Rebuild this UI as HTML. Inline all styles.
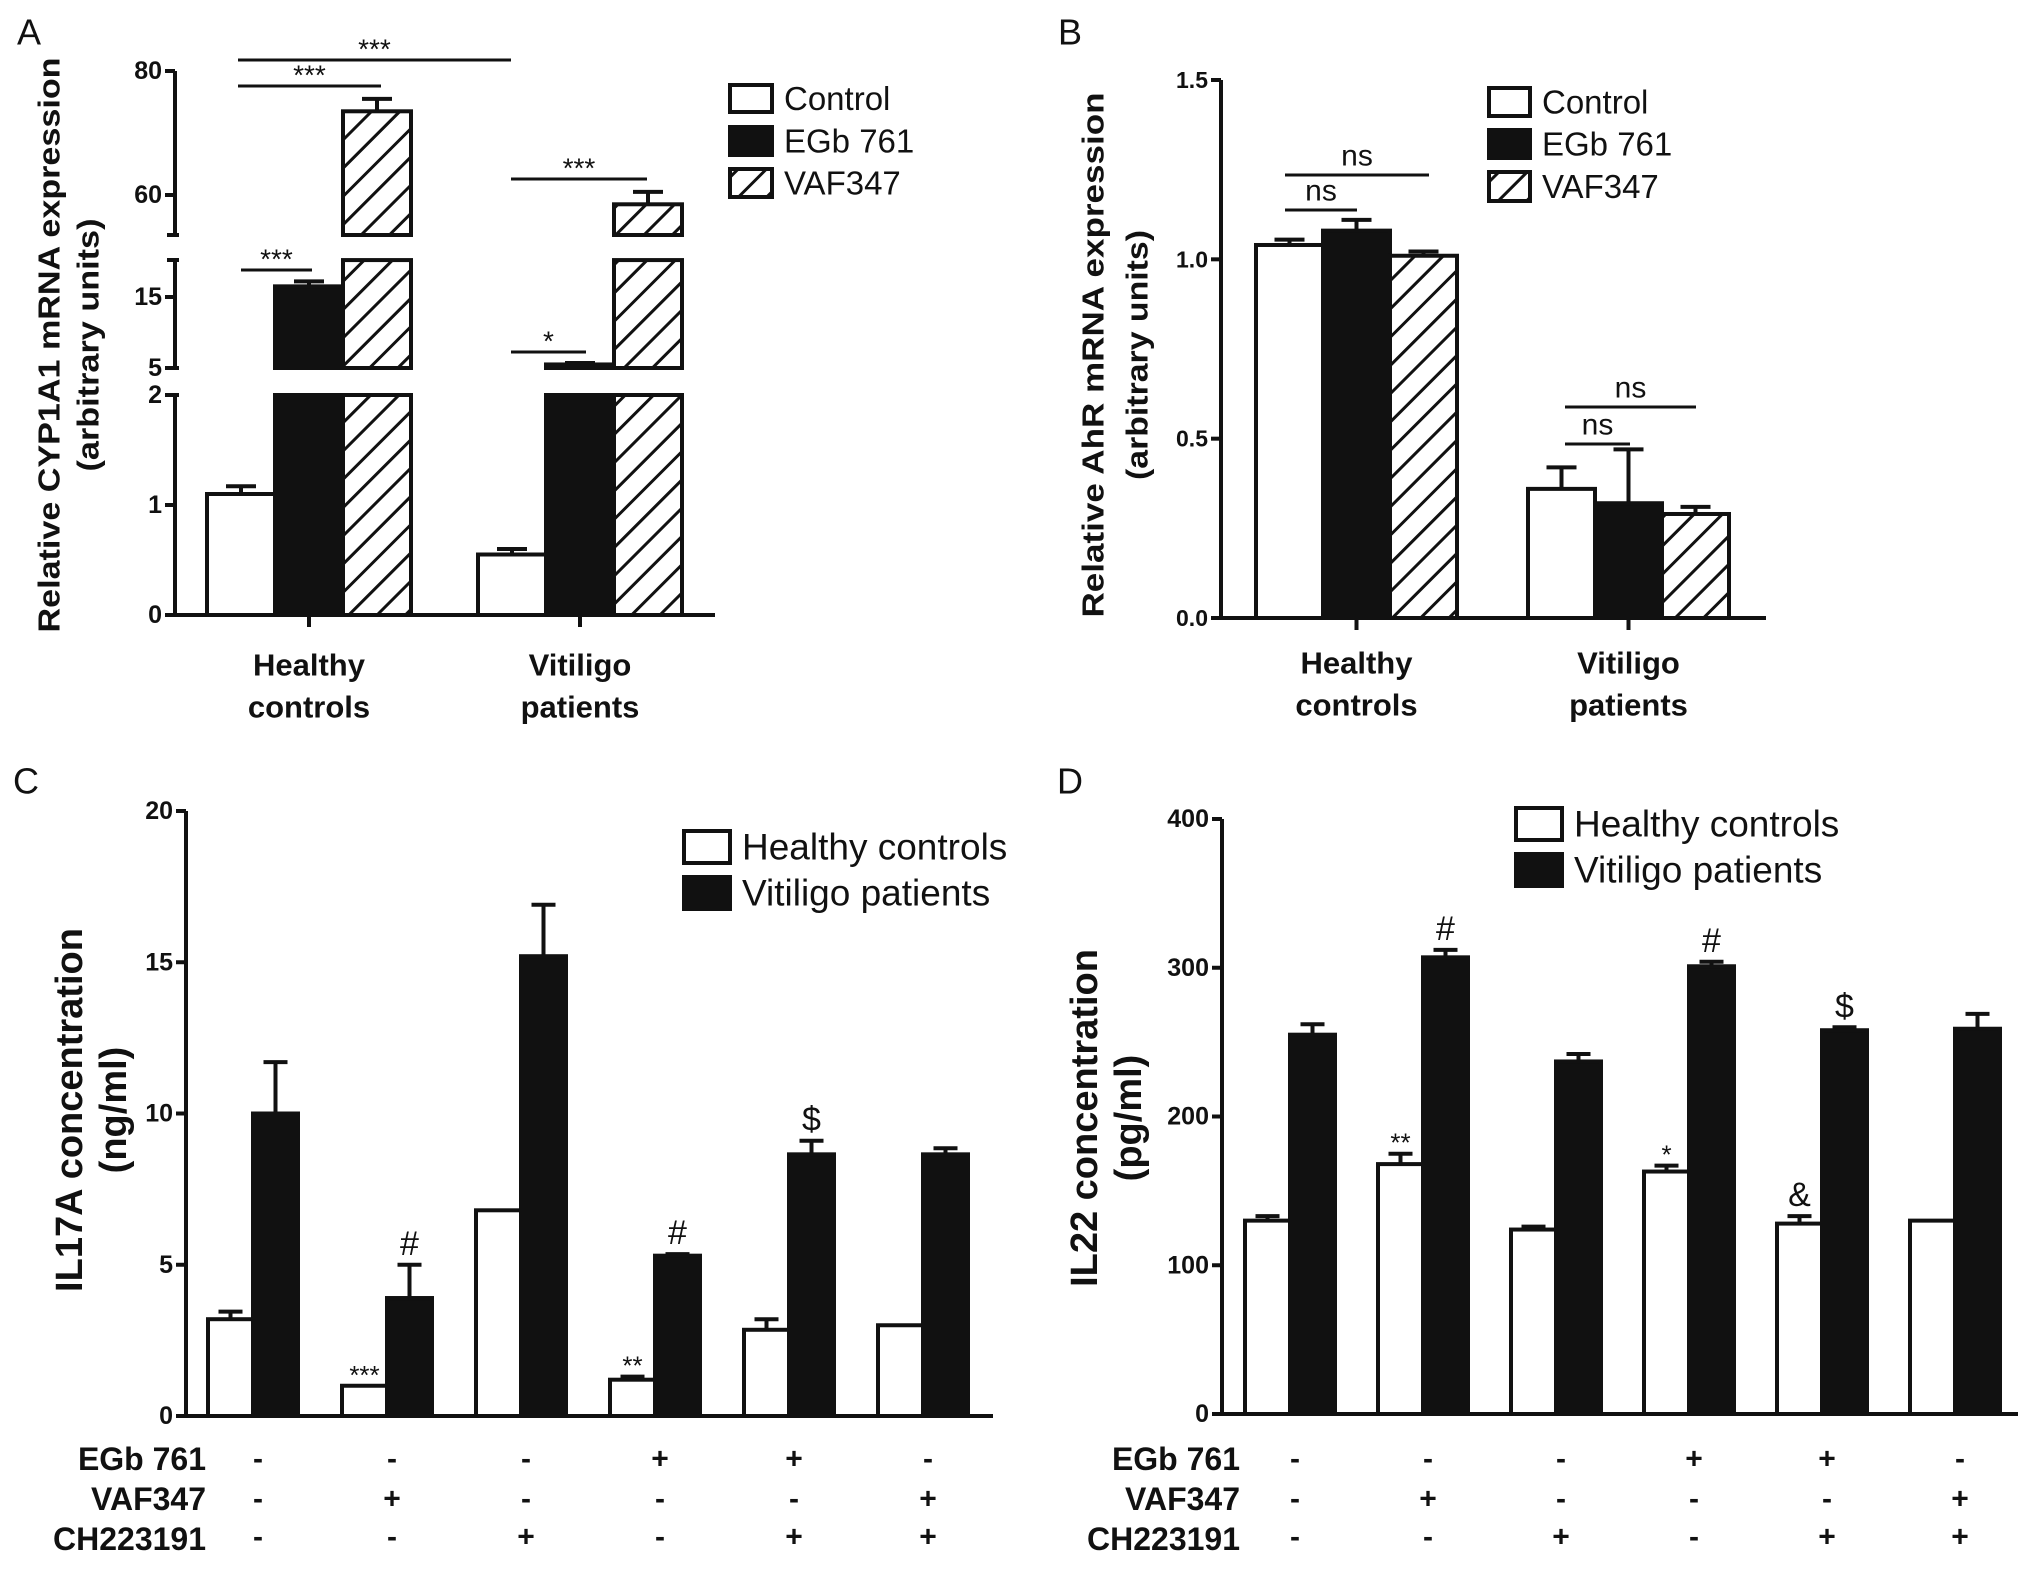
<!DOCTYPE html>
<html><head><meta charset="utf-8">
<style>
html,body{margin:0;padding:0;background:#fff;}
svg{display:block;font-family:"Liberation Sans",Arial,sans-serif;}
</style></head>
<body>
<svg id="fig" width="2031" height="1569" viewBox="0 0 2031 1569" xmlns="http://www.w3.org/2000/svg">
<defs>
<pattern id="hatch" patternUnits="userSpaceOnUse" width="20" height="20" patternTransform="rotate(45)">
<rect width="20" height="20" fill="#fff"/>
<line x1="0" y1="0" x2="0" y2="20" stroke="#111" stroke-width="6"/>
</pattern>
</defs>
</svg>
<script>
// ---- Panel A data ----
const groupsA = ["Healthy controls", "Vitiligo patients"];
const seriesA = ["Control", "EGb 761", "VAF347"];
const valsA_control = [1.1, 0.55];
const errA_control = [0.07, 0.05];
const valsA_egb = [16.5, 5.5];
const errA_egb = [0.7, 0.2];
const valsA_vaf = [73.5, 58.5];
const errA_vaf = [2.0, 2.0];
// ---- Panel B data ----
const groupsB = ["Healthy controls", "Vitiligo patients"];
const valsB_control = [1.04, 0.36];
const errB_control = [0.015, 0.06];
const valsB_egb = [1.08, 0.32];
const errB_egb = [0.03, 0.15];
const valsB_vaf = [1.01, 0.29];
const errB_vaf = [0.012, 0.02];
const ticksB = [0, 0.5, 1.0, 1.5];
const tickLabelsB = ["0.0", "0.5", "1.0", "1.5"];
// ---- Panel C data ----
const valsC_hc = [3.2, 1.0, 6.8, 1.2, 2.85, 3.0];
const errC_hc = [0.25, 0, 0, 0.1, 0.35, 0];
const valsC_vp = [10.0, 3.9, 15.2, 5.3, 8.65, 8.65];
const errC_vp = [1.7, 1.1, 1.7, 0.05, 0.45, 0.2];
const annotC_hc = ["", "***", "", "**", "", ""];
const annotC_vp = ["", "#", "", "#", "$", ""];
const ticksC = [0, 5, 10, 15, 20];
// ---- Panel D data ----
const valsD_hc = [130, 168, 124, 163, 128, 130];
const errD_hc = [3, 7, 2, 4, 5, 0];
const valsD_vp = [255, 307, 237, 301, 258, 259];
const errD_vp = [7, 5, 5, 3, 2, 10];
const annotD_hc = ["", "**", "", "*", "&", ""];
const annotD_vp = ["", "#", "", "#", "$", ""];
const ticksD = [0, 100, 200, 300, 400];
// ---- treatments ----
const rowEGb = ["-", "-", "-", "+", "+", "-"];
const rowVAF = ["-", "+", "-", "-", "-", "+"];
const rowCH = ["-", "-", "+", "-", "+", "+"];

const svg = document.getElementById('fig');
const NS = "http://www.w3.org/2000/svg";
function mk(tag, attrs, parent) {
  const e = document.createElementNS(NS, tag);
  for (const k in attrs) e.setAttribute(k, attrs[k]);
  (parent || svg).appendChild(e);
  return e;
}
function line(x1, y1, x2, y2, w, name, p) {
  const e = mk('line', {x1, y1, x2, y2, stroke: '#111', 'stroke-width': w}, p);
  
  
  return e;
}
function text(x, y, s, size, opts, name, p) {
  const a = {x, y, 'font-size': size, fill: '#111', 'text-anchor': 'middle', 'dominant-baseline': 'central'};
  Object.assign(a, opts || {});
  const e = mk('text', a, p);
  e.textContent = s;
  
  
  return e;
}
function rect(x, y, w, h, fill, name, p) {
  const e = mk('rect', {x, y, width: w, height: Math.max(0, h), fill, stroke: '#111', 'stroke-width': 4}, p);
  
  
  return e;
}
function errbar(cx, yTop, yVal, cap, name, p) {
  const g = mk('g', {}, p);
  
  
  line(cx, yVal, cx, yTop, 4, 'error-stem', g);
  line(cx - cap / 2, yTop, cx + cap / 2, yTop, 4, 'error-cap', g);
}
function group(name) {
  const g = mk('g', {});
  
  
  return g;
}
function legendEntry(x, y, w, h, fill, label, fs, g) {
  const e = mk('g', {}, g);
  
  
  rect(x, y, w, h, fill, 'legend-swatch', e);
  text(x + w + 12, y + h / 2, label, fs, {'text-anchor': 'start'}, 'legend-label', e);
}
const fills = ['#fff', '#111', 'url(#hatch)'];

// ================= Panel A =================
(function () {
  const g = group('panel-a');
  text(29, 32, 'A', 36, {}, 'panel-label-a', g);
  const X0 = 175, XR = 715, Y0 = 615;
  function yA(v) {
    if (v <= 2) return 615 - v * 110;
    if (v <= 20.3) return 368 - (v - 5) * 7.1;
    return 195 - (v - 60) * 6.2;
  }
  line(X0, 71, X0, 235, 4, 'y-axis-upper', g);
  line(X0, 260, X0, 368, 4, 'y-axis-middle', g);
  line(X0, 395, X0, 615, 4, 'y-axis-lower', g);
  [235, 260, 368, 395].forEach(y => line(X0 - 8, y, X0 + 4, y, 4, 'axis-break-mark', g));
  line(X0, Y0, XR, Y0, 4, 'x-axis', g);
  const ticks = [0, 1, 2, 5, 15, 60, 80];
  ticks.forEach(t => {
    const y = yA(t);
    line(X0 - 10, y, X0, y, 4, 'y-tick', g);
    text(X0 - 13, y, String(t), 25, {'text-anchor': 'end', 'font-weight': 'bold'}, 'y-tick-label', g);
  });
  const yt = mk('text', {transform: 'translate(49,345) rotate(-90)', 'font-size': 31, 'font-weight': 'bold', 'text-anchor': 'middle', 'dominant-baseline': 'central', textLength: 575, lengthAdjust: 'spacingAndGlyphs', fill: '#111'}, g);
  yt.textContent = 'Relative CYP1A1 mRNA expression';
  
  
  const yt2 = mk('text', {transform: 'translate(88,345) rotate(-90)', 'font-size': 31, 'font-weight': 'bold', 'text-anchor': 'middle', 'dominant-baseline': 'central', textLength: 253, lengthAdjust: 'spacingAndGlyphs', fill: '#111'}, g);
  yt2.textContent = '(arbitrary units)';
  
  
  const vals = [valsA_control, valsA_egb, valsA_vaf];
  const errs = [errA_control, errA_egb, errA_vaf];
  const groupX = [207, 478], bw = 68;
  groupsA.forEach((gname, gi) => {
    const cx = groupX[gi] + bw * 1.5;
    line(cx, Y0, cx, Y0 + 12, 4, 'x-tick', g);
    const parts = gname.split(' ');
    text(cx, 665, parts[0], 31, {'font-weight': 'bold'}, 'x-category-label', g);
    text(cx, 707, parts[1], 31, {'font-weight': 'bold'}, 'x-category-label', g);
    for (let s = 0; s < 3; s++) {
      const v = vals[s][gi], e = errs[s][gi];
      const x = groupX[gi] + s * bw;
      errbar(x + bw / 2, yA(v + e), yA(v), 30, 'error-bar', g);
      rect(x, yA(Math.min(v, 2)), bw, Y0 - yA(Math.min(v, 2)), fills[s], 'bar-' + s + '-lower', g);
      if (v > 5) rect(x, yA(Math.min(v, 20.2)), bw, 368 - yA(Math.min(v, 20.2)), fills[s], 'bar-' + s + '-middle', g);
      if (v > 53.5) rect(x, yA(v), bw, 235 - yA(v), fills[s], 'bar-' + s + '-upper', g);
    }
  });
  [[238, 511, 60, '***'], [238, 381, 86, '***'], [241, 312, 270, '***'], [511, 647, 179, '***'], [511, 586, 352, '*']].forEach(s => {
    line(s[0], s[2], s[1], s[2], 3, 'significance-line', g);
    text((s[0] + s[1]) / 2, s[2] - 11, s[3], 28, {}, 'significance-label', g);
  });
  legendEntry(730, 85, 42, 27, '#fff', 'Control', 33, g);
  legendEntry(730, 127, 42, 28, '#111', ' EGb 761', 33, g);
  legendEntry(730, 169, 42, 28, 'url(#hatch)', 'VAF347', 33, g);
})();

// ================= Panel B =================
(function () {
  const g = group('panel-b');
  text(1070, 32, 'B', 36, {}, 'panel-label-b', g);
  const X0 = 1221, XR = 1766, Y0 = 618, Ytop = 80;
  const yB = v => Y0 - v * (Y0 - Ytop) / 1.5;
  line(X0, Ytop, X0, Y0, 4, 'y-axis', g);
  line(X0, Y0, XR, Y0, 4, 'x-axis', g);
  ticksB.forEach((t, i) => {
    line(X0 - 10, yB(t), X0, yB(t), 4, 'y-tick', g);
    text(X0 - 13, yB(t), tickLabelsB[i], 23, {'text-anchor': 'end', 'font-weight': 'bold'}, 'y-tick-label', g);
  });
  const yt = mk('text', {transform: 'translate(1093,355) rotate(-90)', 'font-size': 31, 'font-weight': 'bold', 'text-anchor': 'middle', 'dominant-baseline': 'central', textLength: 525, lengthAdjust: 'spacingAndGlyphs', fill: '#111'}, g);
  yt.textContent = 'Relative AhR  mRNA expression';
  
  
  const yt2 = mk('text', {transform: 'translate(1137,355) rotate(-90)', 'font-size': 31, 'font-weight': 'bold', 'text-anchor': 'middle', 'dominant-baseline': 'central', textLength: 250, lengthAdjust: 'spacingAndGlyphs', fill: '#111'}, g);
  yt2.textContent = '(arbitrary units)';
  
  
  const vals = [valsB_control, valsB_egb, valsB_vaf];
  const errs = [errB_control, errB_egb, errB_vaf];
  const groupX = [1256, 1528], bw = 67;
  groupsB.forEach((gname, gi) => {
    const cx = groupX[gi] + bw * 1.5;
    line(cx, Y0, cx, Y0 + 12, 4, 'x-tick', g);
    const parts = gname.split(' ');
    text(cx, 663, parts[0], 31, {'font-weight': 'bold'}, 'x-category-label', g);
    text(cx, 705, parts[1], 31, {'font-weight': 'bold'}, 'x-category-label', g);
    for (let s = 0; s < 3; s++) {
      const v = vals[s][gi], e = errs[s][gi];
      const x = groupX[gi] + s * bw;
      errbar(x + bw / 2, yB(v + e), yB(v), 30, 'error-bar', g);
      rect(x, yB(v), bw, Y0 - yB(v), fills[s], 'bar-' + seriesA[s].toLowerCase().replace(' ', '-'), g);
    }
  });
  [[1285, 1429, 175], [1285, 1357, 210], [1565, 1696, 407], [1565, 1630, 444]].forEach(s => {
    line(s[0], s[2], s[1], s[2], 3, 'significance-line', g);
    text((s[0] + s[1]) / 2, s[2] - 19, 'ns', 30, {}, 'significance-label', g);
  });
  legendEntry(1489, 88, 41, 28, '#fff', 'Control', 33, g);
  legendEntry(1489, 130, 41, 28, '#111', ' EGb 761', 33, g);
  legendEntry(1489, 172, 41, 29, 'url(#hatch)', 'VAF347', 33, g);
})();

// ================= Panels C & D =================
function drawCD(cfg) {
  const g = group(cfg.name);
  text(cfg.letterX, 781, cfg.letter, 36, {}, 'panel-label-' + cfg.letter.toLowerCase(), g);
  const {X0, XR, Y0, Ytop, max} = cfg;
  const y = v => Y0 - v * (Y0 - Ytop) / max;
  line(X0, Ytop, X0, Y0, 4, 'y-axis', g);
  line(X0, Y0, XR, Y0, 4, 'x-axis', g);
  cfg.ticks.forEach(t => {
    line(X0 - 10, y(t), X0, y(t), 4, 'y-tick', g);
    text(X0 - 13, y(t), String(t), 25, {'text-anchor': 'end', 'font-weight': 'bold'}, 'y-tick-label', g);
  });
  const yt = mk('text', {transform: 'translate(' + cfg.titleX + ',' + cfg.titleY + ') rotate(-90)', 'font-size': 38, 'font-weight': 'bold', 'text-anchor': 'middle', 'dominant-baseline': 'central', fill: '#111'}, g);
  yt.textContent = cfg.title;
  
  
  const yt2 = mk('text', {transform: 'translate(' + (cfg.titleX + 44) + ',' + cfg.titleY + ') rotate(-90)', 'font-size': 38, 'font-weight': 'bold', 'text-anchor': 'middle', 'dominant-baseline': 'central', fill: '#111'}, g);
  yt2.textContent = cfg.unit;
  
  
  const bw = 45, period = cfg.period;
  for (let i = 0; i < cfg.hc.length; i++) {
    const x = cfg.x0 + i * period;
    [[cfg.hc, cfg.hcErr, cfg.hcAnn, '#fff', 'bar-healthy'], [cfg.vp, cfg.vpErr, cfg.vpAnn, '#111', 'bar-vitiligo']].forEach((s, k) => {
      const v = s[0][i], e = s[1][i];
      const bx = x + k * bw;
      if (e > 0) errbar(bx + bw / 2, y(v + e), y(v), 24, 'error-bar', g);
      rect(bx, y(v), bw, Y0 - y(v), s[3], s[4], g);
      if (s[2][i]) {
        const sz = s[2][i].indexOf('*') >= 0 ? 26 : 34;
        text(bx + bw / 2, y(v + e) - (sz === 26 ? 11 : 21), s[2][i], sz, {}, 'annotation', g);
      }
    });
    const cx = x + bw;
    text(cx + 5, 1459, rowEGb[i], 30, {'font-weight': 'bold'}, 'egb-sign', g);
    text(cx + 5, 1499, rowVAF[i], 30, {'font-weight': 'bold'}, 'vaf-sign', g);
    text(cx + 5, 1537, rowCH[i], 30, {'font-weight': 'bold'}, 'ch-sign', g);
  }
  text(cfg.rowLabelX, 1459, 'EGb 761', 32, {'text-anchor': 'end', 'font-weight': 'bold'}, 'row-label-egb761', g);
  text(cfg.rowLabelX, 1499, 'VAF347', 32, {'text-anchor': 'end', 'font-weight': 'bold'}, 'row-label-vaf347', g);
  text(cfg.rowLabelX, 1539, 'CH223191', 32, {'text-anchor': 'end', 'font-weight': 'bold'}, 'row-label-ch223191', g);
  legendEntry(cfg.legX, cfg.legY, 46, 32, '#fff', 'Healthy controls', 37, g);
  legendEntry(cfg.legX, cfg.legY + 46, 46, 32, '#111', 'Vitiligo patients', 37, g);
}
drawCD({name: 'panel-c', letter: 'C', letterX: 26, X0: 186, XR: 993, Y0: 1416, Ytop: 811, max: 20, ticks: ticksC,
  titleX: 70, titleY: 1110, title: 'IL17A concentration', unit: '(ng/ml)', x0: 208, period: 134,
  hc: valsC_hc, hcErr: errC_hc, hcAnn: annotC_hc, vp: valsC_vp, vpErr: errC_vp, vpAnn: annotC_vp,
  rowLabelX: 206, legX: 684, legY: 831});
drawCD({name: 'panel-d', letter: 'D', letterX: 1070, X0: 1222, XR: 2018, Y0: 1414, Ytop: 819, max: 400, ticks: ticksD,
  titleX: 1085, titleY: 1118, title: 'IL22 concentration', unit: '(pg/ml)', x0: 1245, period: 133,
  hc: valsD_hc, hcErr: errD_hc, hcAnn: annotD_hc, vp: valsD_vp, vpErr: errD_vp, vpAnn: annotD_vp,
  rowLabelX: 1240, legX: 1516, legY: 808});
</script>
</body></html>
